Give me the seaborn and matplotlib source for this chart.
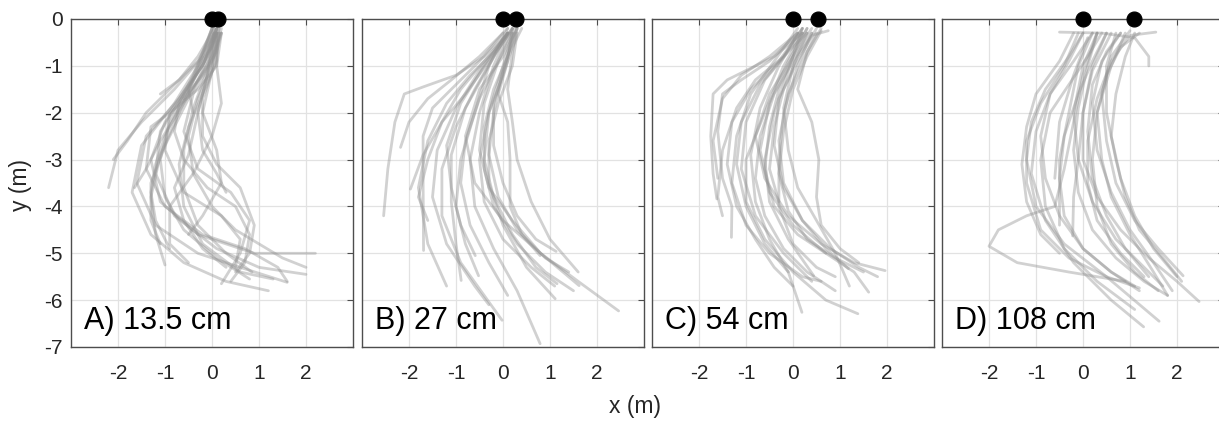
import numpy as np
import pandas as pd
import matplotlib
matplotlib.use("Agg")
import matplotlib.pyplot as plt
import seaborn as sns

# ---------------- data ----------------
panel_labels = ["A) 13.5 cm", "B) 27 cm", "C) 54 cm", "D) 108 cm"]
source_sep = [0.135, 0.27, 0.54, 1.08]   # second marker x (m)
x_ticks = [-2, -1, 0, 1, 2]
y_ticks = [0, -1, -2, -3, -4, -5, -6, -7]

# trajectories: list of (x list, y list) per panel
traj_A = [
    ([0.1, -0.1, -0.5, -1.0, -1.3, -1.1, -0.3, 0.9, 2.2], [-0.2, -0.8, -1.5, -2.2, -3.0, -3.9, -4.6, -5.0, -5.0]),
    ([0.05, -0.15, -0.6, -1.1, -1.2, -0.8, 0.1, 1.0, 2.0], [-0.2, -0.9, -1.6, -2.4, -3.3, -4.2, -4.9, -5.3, -5.45]),
    ([0.1, -0.2, -0.7, -1.4, -1.6, -1.2, -0.3, 0.6, 1.6], [-0.3, -1.0, -1.7, -2.5, -3.5, -4.4, -5.0, -5.3, -5.62]),
    ([0.0, -0.3, -0.8, -1.5, -1.7, -1.3, -0.6, 0.3, 1.2], [-0.2, -1.0, -1.8, -2.7, -3.7, -4.6, -5.2, -5.6, -5.8]),
    ([0.1, 0.0, -0.4, -0.6, -0.3, 0.4, 0.8, 0.6, 0.2], [-0.2, -0.9, -1.6, -2.4, -3.2, -3.7, -4.3, -5.0, -5.65]),
    ([0.15, 0.05, -0.2, -0.2, 0.1, 0.6, 0.9, 0.8, 0.5], [-0.3, -1.0, -1.7, -2.5, -3.1, -3.6, -4.4, -5.0, -5.4]),
    ([0.1, -0.2, -0.8, -1.5, -2.0, -2.2], [-0.2, -0.8, -1.5, -2.2, -2.8, -3.6]),
    ([0.05, -0.3, -0.9, -1.4, -1.8, -2.1], [-0.3, -0.9, -1.5, -2.0, -2.6, -3.0]),
    ([0.1, -0.1, -0.6, -1.1, -1.4, -1.65], [-0.2, -1.0, -1.8, -2.6, -3.2, -3.6]),
    ([0.1, -0.2, -0.6, -1.0, -1.3, -1.3, -1.1], [-0.3, -1.1, -1.9, -2.7, -3.5, -4.3, -4.8]),
    ([0.0, -0.3, -0.7, -1.1, -1.3, -1.2, -1.0], [-0.2, -1.1, -2.0, -2.9, -3.8, -4.6, -5.25]),
    ([0.1, -0.1, -0.4, -0.6, -0.6, -0.3, 0.3, 0.85], [-0.3, -1.1, -1.9, -2.8, -3.6, -4.4, -5.0, -5.4]),
    ([0.15, 0.1, -0.2, -0.5, -0.7, -0.6, -0.2, 0.6, 1.3], [-0.2, -0.9, -1.6, -2.3, -3.1, -4.0, -4.8, -5.4, -5.55]),
    ([0.05, -0.1, -0.3, -0.5, -0.8, -0.6, -0.2, 0.3], [-0.3, -1.2, -2.0, -2.9, -3.6, -4.3, -4.9, -5.3]),
    ([0.1, 0.1, 0.2, 0.0, -0.4, -0.9, -0.9, -0.5], [-0.3, -1.0, -1.8, -2.5, -3.3, -4.0, -4.8, -5.2]),
    ([0.0, -0.4, -0.7, -0.8, -0.6, -0.1, 0.5, 0.8, 0.7, 0.4], [-0.2, -1.2, -1.8, -2.4, -3.0, -3.6, -4.0, -4.6, -5.2, -5.6]),
    ([0.1, -0.2, -0.5, -0.9, -1.0, -0.6, 0.2, 0.6, 0.5], [-0.2, -1.0, -1.4, -2.0, -2.8, -3.7, -4.2, -4.7, -5.3]),
    ([0.1, 0.0, -0.2, 0.1, 0.2, -0.2, -0.5], [-0.3, -1.1, -2.0, -2.8, -3.5, -4.2, -4.6]),
    ([0.05, -0.3, -0.7, -1.1], [-0.2, -0.8, -1.3, -1.6]),
    ([0.2, 0.1, -0.3, -0.9, -1.3, -1.4, -1.0, -0.2, 0.7, 1.4, 1.6], [-0.3, -1.0, -1.5, -2.0, -2.3, -3.2, -4.0, -4.6, -4.9, -5.3, -5.6]),
    ([0.15, 0.0, -0.3, -0.5, -0.4], [-0.2, -0.6, -1.0, -1.5, -2.0]),
    ([0.2, 0.1, -0.2, -0.6], [-0.3, -0.7, -1.2, -1.7]),
    ([0.2, 0.0, -0.3, -0.7, -1.0, -1.2, -1.3, -1.2, -0.9], [-0.3, -0.8, -1.3, -1.9, -2.5, -3.1, -3.7, -4.3, -4.9]),
    ([0.15, 0.0, -0.3, -0.5, -0.4, 0.0, 0.5, 1.0, 1.5, 2.0], [-0.3, -1.0, -1.7, -2.5, -3.3, -4.0, -4.5, -4.8, -5.1, -5.3]),
    ([0.05, -0.2, -0.5, -0.9, -1.1, -1.0, -0.6, 0.1, 0.8], [-0.3, -0.9, -1.5, -2.2, -3.0, -3.8, -4.5, -5.1, -5.55]),
    ([0.2, 0.1, -0.1, -0.3, -0.2, 0.1, 0.3], [-0.2, -0.6, -1.2, -2.0, -2.8, -3.3, -3.7]),
]

traj_B = [
    ([0.3, 0.0, -0.5, -0.8, -0.6, 0.0, 0.8, 1.6, 2.46], [-0.2, -0.8, -1.5, -2.5, -3.5, -4.3, -5.0, -5.6, -6.23]),
    ([0.2, -0.1, -0.4, -0.5, -0.3, 0.2, 0.8, 1.62], [-0.2, -0.9, -1.8, -2.8, -3.6, -4.3, -5.0, -5.69]),
    ([0.2, 0.0, -0.3, -0.4, -0.2, 0.2, 0.7, 1.15], [-0.3, -1.0, -2.0, -3.0, -3.8, -4.6, -5.3, -5.65]),
    ([0.25, 0.05, -0.2, -0.2, 0.0, 0.3, 0.7, 1.13], [-0.2, -1.0, -1.8, -2.7, -3.5, -4.2, -4.7, -4.96]),
    ([0.1, -0.2, -0.5, -0.7, -0.6, -0.2, 0.3, 0.79], [-0.3, -1.0, -2.0, -3.0, -4.0, -4.9, -5.8, -6.93]),
    ([0.2, -0.2, -0.6, -1.0, -1.3, -1.3, -0.9, -0.4, -0.02], [-0.2, -0.8, -1.5, -2.3, -3.2, -4.2, -5.2, -5.9, -6.43]),
    ([0.1, -0.3, -0.8, -1.1, -1.1, -1.0, -0.89], [-0.3, -1.0, -1.9, -2.9, -3.9, -4.8, -5.58]),
    ([0.1, -0.4, -0.9, -1.2, -1.1, -0.9, -0.59], [-0.3, -1.0, -1.8, -2.7, -3.6, -4.4, -5.05]),
    ([0.0, -0.5, -1.0, -1.5, -1.7, -1.7, -1.69], [-0.3, -0.9, -1.4, -1.9, -2.5, -3.5, -4.94]),
    ([0.1, -0.4, -1.0, -1.7, -2.1, -2.3, -2.45, -2.54], [-0.3, -0.8, -1.2, -1.45, -1.6, -2.2, -3.2, -4.2]),
    ([0.1, -0.5, -1.1, -1.6, -2.0, -2.18], [-0.2, -0.8, -1.3, -1.7, -2.2, -2.74]),
    ([0.15, -0.3, -0.8, -1.3, -1.7, -1.97], [-0.3, -0.9, -1.6, -2.2, -2.9, -3.63]),
    ([0.2, 0.1, -0.1, 0.1, 0.15, 0.15, 0.4, 0.79], [-0.2, -0.9, -1.6, -2.2, -3.0, -4.0, -4.6, -5.05]),
    ([0.3, 0.2, -0.1, -0.3, -0.3, 0.0, 0.5, 1.11], [-0.3, -1.0, -1.8, -2.6, -3.5, -4.4, -5.3, -5.97]),
    ([0.1, -0.3, -0.6, -0.9, -1.0, -0.8, -0.52], [-0.2, -1.0, -2.0, -3.0, -4.0, -4.8, -5.48]),
    ([0.3, 0.2, 0.1, 0.2, 0.3, 0.6, 1.0, 1.6], [-0.2, -0.7, -1.5, -2.2, -3.0, -3.9, -4.7, -5.4]),
    ([0.1, -0.5, -1.0, -1.4, -1.5, -1.2, -0.6, -0.3], [-0.3, -1.1, -1.9, -2.8, -3.8, -4.8, -5.7, -6.1]),
    ([0.4, 0.2, 0.0, -0.3, -0.5, -0.4, 0.0, 0.6, 1.1], [-0.2, -0.6, -1.2, -2.0, -3.0, -3.9, -4.7, -5.3, -5.7]),
    ([0.2, -0.2, -0.7, -1.2, -1.6, -1.8, -1.6, -1.2], [-0.2, -0.7, -1.2, -1.8, -2.6, -3.6, -4.8, -5.7]),
    ([0.3, 0.1, -0.2, -0.4, -0.4, -0.2, 0.3, 0.9, 1.5], [-0.2, -0.8, -1.5, -2.3, -3.2, -4.0, -4.8, -5.4, -5.8]),
    ([0.2, -0.1, -0.5, -0.8, -0.9, -0.7, -0.3, 0.1], [-0.3, -0.9, -1.7, -2.6, -3.5, -4.4, -5.2, -5.9]),
    ([0.1, -0.4, -0.9, -1.3, -1.6, -1.8, -1.6], [-0.3, -0.9, -1.5, -2.2, -3.0, -3.8, -4.3]),
    ([0.25, 0.0, -0.2, -0.3, -0.1, 0.3, 0.9, 1.4], [-0.3, -1.1, -2.0, -2.9, -3.8, -4.5, -5.1, -5.4]),
]

traj_C = [
    ([0.4, 0.0, -0.5, -0.8, -0.6, -0.1, 0.6, 1.3, 1.96], [-0.2, -0.8, -1.6, -2.5, -3.4, -4.2, -4.8, -5.2, -5.37]),
    ([0.3, -0.1, -0.5, -0.7, -0.5, 0.0, 0.7, 1.3, 1.61], [-0.2, -0.9, -1.8, -2.8, -3.7, -4.4, -5.0, -5.4, -5.83]),
    ([0.2, -0.2, -0.6, -1.0, -1.0, -0.6, 0.0, 0.7, 1.38], [-0.3, -1.0, -2.0, -3.0, -3.9, -4.7, -5.4, -6.0, -6.29]),
    ([0.5, 0.1, -0.3, -0.4, -0.2, 0.2, 0.7, 1.18], [-0.2, -0.9, -1.7, -2.7, -3.6, -4.3, -4.9, -5.33]),
    ([0.1, -0.3, -0.7, -0.9, -0.8, -0.5, -0.1, 0.19], [-0.3, -1.0, -1.9, -2.9, -3.9, -4.7, -5.4, -6.26]),
    ([0.2, -0.1, -0.4, -0.6, -0.5, -0.1, 0.44], [-0.2, -1.1, -2.0, -3.0, -3.9, -4.7, -5.48]),
    ([0.1, -0.5, -1.1, -1.5, -1.6, -1.5, -1.3, -1.31], [-0.3, -0.9, -1.3, -1.6, -2.4, -3.4, -4.0, -4.66]),
    ([0.2, -0.4, -1.0, -1.4, -1.7, -1.75, -1.7, -1.62], [-0.3, -0.8, -1.1, -1.3, -1.6, -2.5, -3.3, -3.84]),
    ([0.6, 0.3, 0.1, 0.4, 0.55, 0.5, 0.6, 1.0, 1.4], [-0.2, -0.7, -1.5, -2.2, -3.0, -3.8, -4.4, -4.9, -5.2]),
    ([0.3, 0.0, -0.2, -0.1, 0.1, 0.5, 0.9, 1.2], [-0.3, -1.0, -1.9, -2.8, -3.6, -4.3, -5.0, -5.7]),
    ([0.2, -0.3, -0.9, -1.3, -1.4, -1.2, -0.8, -0.4, 0.0], [-0.2, -0.9, -1.5, -2.2, -3.1, -4.0, -4.7, -5.3, -5.7]),
    ([0.4, 0.1, -0.2, -0.3, -0.3, 0.0, 0.5, 0.9], [-0.3, -1.0, -2.0, -3.0, -4.0, -4.8, -5.3, -5.5]),
    ([0.1, -0.4, -0.9, -1.2, -1.3, -1.0, -0.5, 0.2, 0.6], [-0.2, -0.9, -1.6, -2.5, -3.5, -4.4, -5.0, -5.5, -5.6]),
    ([0.3, 0.0, -0.3, -0.5, -0.6, -0.4, 0.1, 0.7], [-0.2, -0.8, -1.5, -2.3, -3.2, -4.0, -4.6, -5.0]),
    ([0.75, 0.4, 0.1, -0.2, -0.4, -0.5, -0.3], [-0.25, -0.35, -0.8, -1.5, -2.3, -3.2, -3.9]),
    ([0.2, -0.2, -0.8, -1.2, -1.5, -1.6, -1.5], [-0.3, -0.8, -1.3, -1.9, -2.8, -3.8, -4.2]),
    ([0.5, 0.2, -0.1, -0.3, -0.2, 0.2, 0.8, 1.4, 1.8], [-0.3, -0.9, -1.6, -2.6, -3.5, -4.3, -4.9, -5.3, -5.5]),
    ([0.3, -0.1, -0.6, -1.0, -1.1, -0.8, -0.2, 0.4], [-0.3, -0.7, -1.3, -2.2, -3.2, -4.2, -5.0, -5.6]),
    ([0.4, 0.0, -0.4, -0.7, -0.8, -0.6, -0.2, 0.3, 0.9], [-0.3, -0.9, -1.6, -2.5, -3.4, -4.2, -4.9, -5.4, -5.8]),
    ([0.2, -0.2, -0.7, -1.1, -1.2, -1.0, -0.6, -0.1], [-0.2, -0.8, -1.4, -2.2, -3.1, -4.0, -4.8, -5.4]),
    ([0.6, 0.3, 0.0, -0.2, -0.3, -0.1, 0.3, 0.9, 1.5], [-0.25, -0.8, -1.5, -2.4, -3.3, -4.1, -4.7, -5.1, -5.4]),
    ([0.1, -0.5, -1.1, -1.5, -1.7, -1.6], [-0.3, -0.8, -1.2, -1.7, -2.6, -3.4]),
]

traj_D = [
    ([0.0, -0.3, -0.8, -1.1, -1.2, -1.0, -0.4, 0.5, 1.62], [-0.3, -0.8, -1.5, -2.2, -3.0, -4.0, -4.8, -5.5, -6.45]),
    ([0.2, -0.2, -0.7, -1.0, -1.1, -0.8, -0.2, 0.6, 1.29], [-0.3, -0.9, -1.6, -2.4, -3.3, -4.3, -5.2, -6.0, -6.57]),
    ([0.5, 0.2, 0.0, 0.0, 0.3, 0.8, 1.4, 2.0, 2.47], [-0.3, -1.0, -2.0, -3.0, -3.8, -4.5, -5.1, -5.6, -6.03]),
    ([0.8, 0.4, 0.2, 0.3, 0.6, 1.0, 1.5, 1.9], [-0.3, -0.9, -1.8, -2.8, -3.7, -4.5, -5.2, -5.8]),
    ([1.0, 0.6, 0.4, 0.5, 0.7, 1.1, 1.6, 2.13], [-0.25, -0.8, -1.6, -2.6, -3.5, -4.3, -4.9, -5.48]),
    ([0.3, 0.0, -0.2, -0.1, 0.2, 0.7, 1.2, 1.7], [-0.3, -1.0, -2.0, -3.0, -3.9, -4.7, -5.2, -5.7]),
    ([-0.1, -0.4, -0.9, -1.2, -1.2, -0.9, -0.3, 0.5, 1.2], [-0.3, -1.0, -1.8, -2.6, -3.5, -4.5, -5.1, -5.5, -5.74]),
    ([0.3, 0.0, -0.2, -0.4, -0.6, -1.2, -1.8, -2.0, -1.4, -0.3, 0.9], [-0.3, -1.2, -2.2, -3.2, -4.0, -4.2, -4.5, -4.85, -5.2, -5.4, -5.6]),
    ([0.6, 0.2, 0.0, -0.1, -0.2, -0.22], [-0.3, -1.1, -2.0, -3.0, -3.8, -4.63]),
    ([0.2, -0.1, -0.3, -0.5, -0.5, -0.5], [-0.3, -1.0, -2.0, -3.0, -3.8, -4.4]),
    ([0.1, -0.2, -0.5, -0.6], [-0.4, -1.2, -2.2, -3.4]),
    ([1.2, 0.8, 0.5, 0.3, 0.4, 0.6, 1.0, 1.5, 1.8], [-0.3, -0.6, -1.2, -2.0, -3.0, -3.8, -4.6, -5.4, -5.9]),
    ([0.9, 0.6, 0.3, 0.2, 0.3, 0.6, 1.1, 1.6], [-0.3, -1.0, -2.0, -3.0, -4.0, -4.8, -5.4, -5.8]),
    ([-0.5, 0.4, 1.1, 1.4, 1.4], [-0.28, -0.3, -0.4, -0.8, -1.0]),
    ([0.4, 0.1, -0.3, -0.7, -0.9, -0.8, -0.4, 0.3, 1.1], [-0.3, -0.8, -1.4, -2.0, -3.0, -4.0, -4.9, -5.6, -6.2]),
    ([0.7, 0.5, 0.5, 0.7, 0.9, 1.2, 1.7, 2.1], [-0.3, -1.0, -2.0, -3.0, -3.8, -4.5, -5.1, -5.6]),
    ([1.55, 1.0, 0.6, 0.3, 0.1, 0.1, 0.3, 0.8, 1.3], [-0.28, -0.35, -0.9, -1.7, -2.6, -3.5, -4.3, -5.0, -5.5]),
    ([0.0, -0.3, -0.7, -0.9, -0.8, -0.5, 0.0, 0.6, 1.2], [-0.3, -0.9, -1.6, -2.5, -3.4, -4.2, -4.9, -5.4, -5.8]),
    ([0.8, 0.5, 0.2, 0.1, 0.2, 0.5, 0.9, 1.4], [-0.3, -0.7, -1.4, -2.4, -3.4, -4.2, -4.9, -5.5]),
    ([0.5, 0.2, -0.1, -0.4, -0.5, -0.4, 0.0, 0.6, 1.1], [-0.3, -0.9, -1.6, -2.5, -3.4, -4.2, -4.9, -5.4, -5.7]),
    ([0.3, 0.1, -0.1, -0.2, -0.1, 0.2, 0.7, 1.3, 1.8], [-0.3, -1.0, -1.9, -2.8, -3.7, -4.5, -5.1, -5.6, -5.9]),
    ([-0.2, -0.5, -1.0, -1.2, -1.3, -1.2, -0.9, -0.5], [-0.3, -0.9, -1.6, -2.3, -3.1, -3.9, -4.6, -5.0]),
    ([1.1, 0.9, 0.7, 0.6, 0.8, 1.1, 1.5, 2.0], [-0.3, -0.8, -1.6, -2.5, -3.4, -4.2, -4.9, -5.5]),
]

all_traj = [traj_A, traj_B, traj_C, traj_D]

# ---------------- style ----------------
sns.set_theme(style="white")
plt.rcParams["font.family"] = ["Liberation Sans", "DejaVu Sans"]
plt.rcParams["axes.unicode_minus"] = False

W, H = 1219, 421
fig = plt.figure(figsize=(W / 100, H / 100), dpi=100)

ax_w, ax_h = 282 / W, 328 / H
bottom = 1 - 347 / H
lefts_px = [71, 362, 652, 942]

spine_col = "#4d4d4d"
text_col = "#262626"

for i, (trajs, label, sep) in enumerate(zip(all_traj, panel_labels, source_sep)):
    ax = fig.add_axes([lefts_px[i] / W, bottom, ax_w, ax_h])
    rows = []
    for k, (xs, ys) in enumerate(trajs):
        for j, (xv, yv) in enumerate(zip(xs, ys)):
            rows.append({"traj": k, "order": j, "x": xv, "y": yv})
    df = pd.DataFrame(rows)
    sns.lineplot(data=df, x="x", y="y", units="traj", estimator=None, sort=False,
                 color="#929292", alpha=0.42, lw=2.0, ax=ax, legend=False)
    # source markers
    src = pd.DataFrame({"x": [0.0, sep], "y": [0.0, 0.0]})
    sns.scatterplot(data=src, x="x", y="y", color="black", s=115, edgecolor="black",
                    ax=ax, zorder=5, clip_on=False, legend=False)

    ax.set_xlim(-3, 3)
    ax.set_ylim(-7, 0)
    ax.set_xticks(x_ticks)
    ax.set_xticklabels([str(t) for t in x_ticks])
    ax.set_yticks(y_ticks)
    if i == 0:
        ax.set_yticklabels([str(t) for t in y_ticks])
    else:
        ax.set_yticklabels([])
    ax.grid(True, color="#e2e2e2", lw=0.9)
    ax.set_axisbelow(True)
    ax.tick_params(axis="both", direction="in", length=4, width=0.8, color=spine_col,
                   labelsize=15, labelcolor=text_col, top=True, right=True)
    ax.tick_params(axis="x", pad=12)
    ax.tick_params(axis="y", pad=6)
    for sp in ax.spines.values():
        sp.set_color(spine_col)
        sp.set_linewidth(1.0)
    ax.set_xlabel("")
    ax.set_ylabel("")
    ax.text(-2.72, -6.45, label, fontsize=22, color="black", va="center", ha="left")

fig.text(635 / W, 1 - 406 / H, "x (m)", fontsize=16.5, color=text_col, ha="center", va="center")
fig.text(21 / W, 1 - 185 / H, "y (m)", fontsize=16.5, color=text_col, ha="center", va="center",
         rotation=90)

fig.savefig("out.png", dpi=100)
